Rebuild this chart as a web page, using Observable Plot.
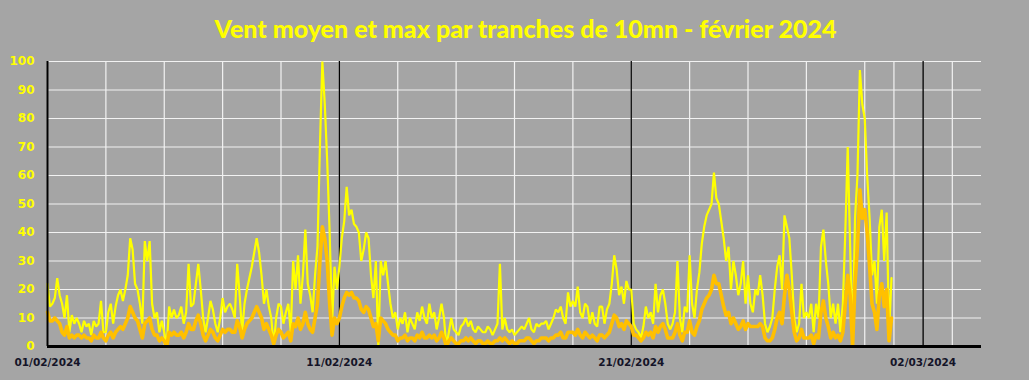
<!DOCTYPE html>
<html><head><meta charset="utf-8">
<script src="https://cdn.jsdelivr.net/npm/d3@7"></script>
<script src="https://cdn.jsdelivr.net/npm/@observablehq/plot@0.6"></script>
<style>
html,body{margin:0;padding:0;background:#a5a5a5;}
#wrap{width:1029px;height:380px;background:#a5a5a5;overflow:hidden;}
#title{height:50px;line-height:56px;text-align:center;color:#ffff00;font-family:Lato,"Open Sans",sans-serif;font-weight:900;font-size:25px;padding-left:22px;box-sizing:border-box;}
</style>
</head><body>
<div id="wrap"><div id="title">Vent moyen et max par tranches de 10mn - février 2024</div><div id="chart"></div></div>
<script>
// Wind data, every 2 hours from 01/02/2024 00:00 (one row = one day)
const maxWind = [
 22,14,15,17,24,18,15,10,18,5,11,8,
 10,8,5,9,7,8,4,9,7,8,16,5,
 5,12,15,8,14,18,20,16,20,25,38,34,
 22,20,15,8,37,30,37,15,10,12,5,9,
 5,0,14,10,13,10,11,14,8,12,29,14,
 15,22,29,20,10,5,10,16,13,8,5,10,
 17,12,14,15,13,10,29,18,5,15,20,24,
 28,33,38,33,25,15,20,14,10,0,10,15,
 14,8,12,15,5,30,20,32,15,25,41,22,
 18,12,25,35,70,100,85,65,40,8,28,20,
 28,38,44,56,46,48,43,42,40,30,34,40,
 38,25,17,30,0,30,25,30,22,15,10,12,
 6,10,8,12,5,10,8,6,12,9,14,10,
 8,15,10,12,6,10,15,10,0,5,10,6,
 5,4,7,8,10,7,9,6,5,7,6,5,
 5,7,6,4,6,8,29,6,10,6,5,6,
 4,5,6,7,6,8,10,6,5,8,7,8,
 8,9,6,8,10,13,12,14,10,8,19,14,
 16,14,21,12,10,15,14,8,12,8,7,14,
 14,8,13,15,22,32,27,18,21,15,23,20,
 20,8,6,5,3,7,14,10,12,8,22,12,
 18,20,15,8,6,8,12,30,10,5,14,12,
 32,15,10,20,26,36,42,46,48,50,61,52,
 50,44,38,30,35,20,30,25,18,22,30,15,
 25,15,12,20,18,25,18,8,5,7,10,20,
 28,32,20,46,42,38,25,10,5,8,22,10,
 12,10,15,5,15,10,35,41,30,22,10,15,
 8,15,5,15,40,70,35,0,45,60,97,85,
 80,60,45,25,30,15,42,48,30,47,5,24
];
const meanWind = [
 12,9,9,10,9,8,5,4,7,3,4,3,
 4,4,3,4,3,3,2,4,3,3,5,3,
 2,4,5,3,5,6,7,6,8,10,14,12,
 10,9,6,3,8,9,10,6,4,4,2,3,
 2,0,5,4,5,4,4,5,3,5,8,6,
 6,9,11,8,4,2,4,6,5,3,2,4,
 6,5,6,6,5,5,9,7,3,6,8,9,
 10,12,14,12,10,6,8,6,4,1,4,6,
 5,3,4,5,2,8,7,10,6,8,12,8,
 6,5,10,15,30,42,38,30,15,4,10,8,
 10,14,17,19,18,19,17,17,16,13,12,14,
 13,10,7,8,2,10,9,8,6,5,4,4,
 2,3,3,4,2,3,3,2,4,3,5,3,
 3,4,3,4,2,3,5,3,0,2,3,2,
 1,1,2,2,3,2,3,2,1,2,2,1,
 1,2,1,1,2,2,3,2,3,2,1,2,
 1,1,2,2,2,3,3,2,1,2,2,3,
 3,3,2,3,3,4,4,5,3,3,5,5,
 5,4,6,4,3,5,4,3,4,3,2,4,
 4,3,4,5,8,11,10,7,8,6,9,8,
 7,4,4,3,2,3,5,4,5,3,7,5,
 7,8,6,3,3,3,5,8,4,2,5,5,
 9,5,4,7,9,13,15,17,18,20,25,22,
 22,18,14,11,12,8,10,8,6,7,9,6,
 8,7,7,7,7,8,7,3,2,2,3,6,
 10,12,8,18,25,20,12,5,2,3,6,3,
 3,3,4,1,4,3,12,16,10,7,3,5,
 3,4,2,5,15,25,18,0,22,35,55,45,
 48,40,28,15,12,6,18,22,14,20,2,10
];
const yTicks = [0,10,20,30,40,50,60,70,80,90,100];
const xTickLabels = ["01/02/2024","11/02/2024","21/02/2024","02/03/2024"];
const xDomainEnd = "04/03/2024";

const parse = d3.utcParse("%d/%m/%Y");
const start = parse(xTickLabels[0]);
const end = parse(xDomainEnd);
const data = maxWind.map((v,i)=>({t:new Date(+start + i*2*3600e3), max:v, mean:meanWind[i]}));
const labelDates = xTickLabels.map(parse);
const gridDates = d3.utcDay.every(2).range(start, d3.utcDay.offset(end,1));

const chart = Plot.plot({
  width:1029, height:330,
  marginLeft:47, marginRight:48, marginTop:11, marginBottom:34,
  style:{background:"transparent", overflow:"visible", fontFamily:"'DejaVu Sans', sans-serif"},
  x:{type:"utc", domain:[start,end]},
  y:{domain:[0,100]},
  marks:[
    Plot.ruleY(yTicks.slice(1), {stroke:"#f2f2f2", strokeWidth:1.2}),
    Plot.ruleX(gridDates, {stroke:"#f2f2f2", strokeWidth:1.2}),
    Plot.ruleX(labelDates.slice(1), {stroke:"#000000", strokeWidth:1.3}),
    Plot.line(data, {x:"t", y:"max", stroke:"#ffff00", strokeWidth:2.2, strokeLinejoin:"miter"}),
    Plot.line(data, {x:"t", y:"mean", stroke:"#ffc000", strokeWidth:3.6}),
    Plot.ruleY([0], {stroke:"#000000", strokeWidth:3}),
    Plot.ruleX([start], {stroke:"#000000", strokeWidth:2}),
    Plot.axisY(yTicks, {tickSize:0, tickPadding:13, color:"#ffff00", fontWeight:"bold", fontSize:12, label:null}),
    Plot.axisX(labelDates, {tickSize:0, tickPadding:12, tickFormat:d3.utcFormat("%d/%m/%Y"), color:"#141428", fontWeight:"bold", fontSize:10.5, label:null})
  ]
});
document.getElementById("chart").appendChild(chart);
</script>
</body></html>
